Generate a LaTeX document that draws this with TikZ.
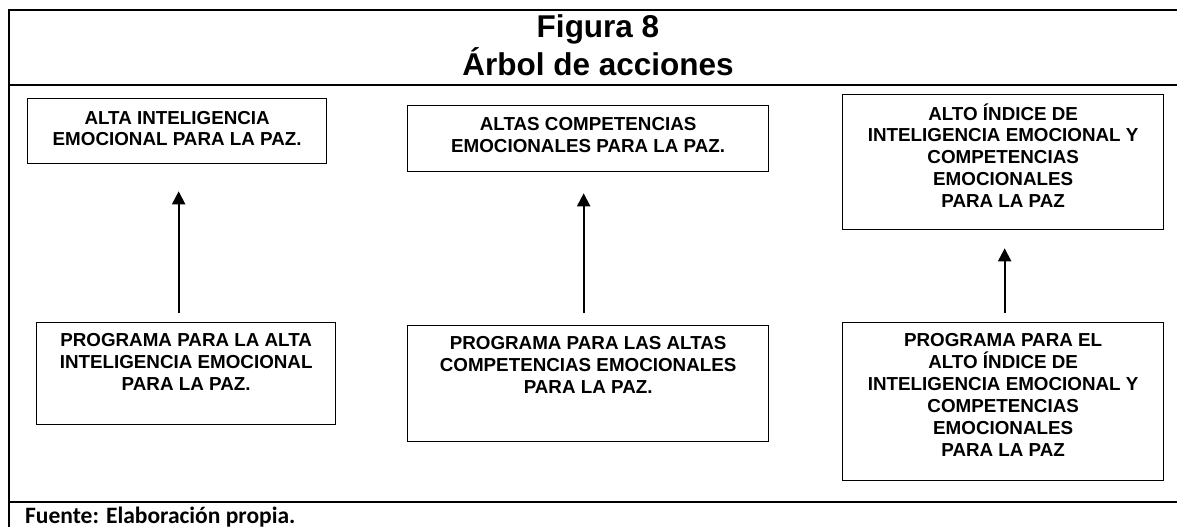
\documentclass[tikz,border=0pt]{standalone}
\usepackage{fontspec}
\setmainfont{Liberation Sans}
\newfontfamily\footfont{Carlito}
\usetikzlibrary{arrows.meta}
\tikzset{
  frameline/.style={line width=2.6pt},
  box/.style={draw, line width=1.3pt, inner sep=0pt, anchor=north west},
  lbl/.style={inner sep=0pt, anchor=base, font=\bfseries\fontsize{18.8}{21.9}\selectfont},
  arr/.style={line width=2pt, -{Triangle[width=13pt,length=13pt]}},
  ttl/.style={inner sep=0pt, anchor=base, font=\bfseries\fontsize{31.5}{37}\selectfont},
}
\begin{document}
\begin{tikzpicture}[x=1pt,y=-1pt]
\useasboundingbox (0,0) rectangle (1177,527);
% frame
\coordinate (ftr) at (1177,10);
\coordinate (ftl) at (9,10);
\coordinate (fbl) at (9,527);
\coordinate (hl) at (9,85);
\coordinate (hr) at (1177,85);
\coordinate (fl) at (9,502);
\coordinate (fr) at (1177,502);
\draw[frameline] (ftr) -- (ftl) -- (fbl);
\draw[frameline] (hl) -- (hr);
\draw[frameline] (fl) -- (fr);
% title
\node[ttl] (t1) at (598,37.7) {Figura 8};
\node[ttl] (t2) at (598,75) {Árbol de acciones};
% boxes
\node[box, minimum width=299pt, minimum height=65pt] (b1) at (27,98) {};
\node[box, minimum width=361pt, minimum height=66pt] (b2) at (407,105) {};
\node[box, minimum width=321pt, minimum height=135pt] (b3) at (842,94) {};
\node[box, minimum width=299pt, minimum height=102pt] (b4) at (36,322) {};
\node[box, minimum width=361pt, minimum height=116pt] (b5) at (407,325) {};
\node[box, minimum width=321pt, minimum height=158pt] (b6) at (842,322) {};
% labels
\node[lbl] (l1) at ([yshift=-26pt]b1.north) {\parbox[t]{299pt}{\centering ALTA INTELIGENCIA\\EMOCIONAL PARA LA PAZ.}};
\node[lbl] (l2) at ([yshift=-25.7pt]b2.north) {\parbox[t]{361pt}{\centering ALTAS COMPETENCIAS\\EMOCIONALES PARA LA PAZ.}};
\node[lbl] (l3) at ([yshift=-26pt]b3.north) {\parbox[t]{321pt}{\centering ALTO ÍNDICE DE\\INTELIGENCIA EMOCIONAL Y\\COMPETENCIAS\\EMOCIONALES\\PARA LA PAZ}};
\node[lbl] (l4) at ([yshift=-24.7pt]b4.north) {\parbox[t]{299pt}{\centering PROGRAMA PARA LA ALTA\\INTELIGENCIA EMOCIONAL\\PARA LA PAZ.}};
\node[lbl] (l5) at ([yshift=-24.3pt]b5.north) {\parbox[t]{361pt}{\centering PROGRAMA PARA LAS ALTAS\\COMPETENCIAS EMOCIONALES\\PARA LA PAZ.}};
\node[lbl] (l6) at ([yshift=-24.7pt]b6.north) {\parbox[t]{321pt}{\centering PROGRAMA PARA EL\\ALTO ÍNDICE DE\\INTELIGENCIA EMOCIONAL Y\\COMPETENCIAS\\EMOCIONALES\\PARA LA PAZ}};
% arrows
\draw[arr] ([xshift=-7.5pt,yshift=9pt]b4.north) -- ([xshift=1.5pt,yshift=-27pt]b1.south);
\draw[arr] ([xshift=-4.5pt,yshift=12pt]b5.north) -- ([xshift=-4.5pt,yshift=-21pt]b2.south);
\draw[arr] ([xshift=1.5pt,yshift=9pt]b6.north) -- ([xshift=1.5pt,yshift=-18pt]b3.south);
% footer
\node[inner sep=0pt, anchor=base west, font=\footfont\bfseries\fontsize{23.5}{28}\selectfont] (src) at (25,523) {Fuente: Elaboración propia.};
\end{tikzpicture}
\end{document}
